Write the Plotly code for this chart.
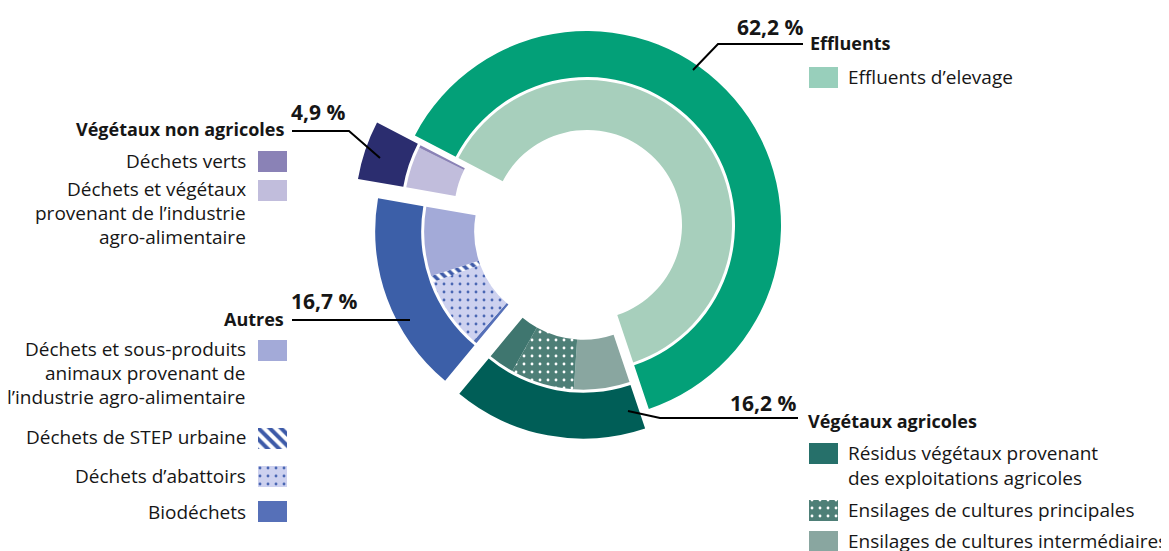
import math
import plotly.graph_objects as go

W, H = 1169, 551
OFF = 8  # the page body adds an 8px margin around the figure

# ---- data -------------------------------------------------------------
groups = ["Effluents", "Végétaux agricoles", "Autres", "Végétaux non agricoles"]
group_values = [62.2, 16.2, 16.7, 4.9]
group_labels = ["62,2 %", "16,2 %", "16,7 %", "4,9 %"]

sub_labels = [
    "Effluents d'elevage",
    "Ensilages de cultures intermédiaires",
    "Ensilages de cultures principales",
    "Résidus végétaux provenant des exploitations agricoles",
    "Biodéchets",
    "Déchets d'abattoirs",
    "Déchets de STEP urbaine",
    "Déchets et sous-produits animaux provenant de l'industrie agro-alimentaire",
    "Déchets et végétaux provenant de l'industrie agro-alimentaire",
    "Déchets verts",
]
sub_group = [0, 1, 1, 1, 2, 2, 2, 2, 3, 3]
sub_values = [62.2, 6.2, 7.1, 2.9, 0.4, 7.9, 0.7, 7.7, 4.6, 0.3]

# ---- style ------------------------------------------------------------
group_colors = ["#03a078", "#005e57", "#3c5fa8", "#2b2d6f"]
sub_colors = ["#a7cfbc", "#89a6a0", "#4e7f77", "#3f766f", "#5670b8",
              "#cdd1ef", "#ffffff", "#a3aad8", "#c1bddc", "#8a82b6"]
sub_shapes = ["", "", ".", "", "", ".", "\\", "", "", ""]
sub_fg = ["#a7cfbc", "#89a6a0", "#ffffff", "#3f766f", "#5670b8",
          "#4a67b3", "#3d5aa8", "#a3aad8", "#c1bddc", "#8a82b6"]
sub_psize = [8, 8, 8, 8, 8, 8, 7, 8, 8, 8]
sub_psolid = [0.3, 0.3, 0.1, 0.3, 0.3, 0.1, 0.5, 0.3, 0.3, 0.3]
CLEAR = "rgba(0,0,0,0)"

cx, cy = 587, 225          # centre of the donut (page px)
r_out, hole_out = 194, 148
r_in, hole_in = 145, 95
pull_px = [0, 20, 19, 40]  # how far each group is pulled out
start_angle = -62.5
FONT = "Open Sans"
TXT = "#161616"


def px(x):
    return (x - OFF) / W


def py(y):
    return 1 - (y - OFF) / H


def box(x0, y0, r):
    return dict(x=[px(x0 - r), px(x0 + r)], y=[py(y0 + r), py(y0 - r)])


fig = go.Figure()

# one pair of pies per group, so that each group can be pulled out on its own
total = sum(group_values)
before = 0
for g in range(len(groups)):
    mid = math.radians(start_angle + 360 * (before + group_values[g] / 2) / total)
    before += group_values[g]
    gx = cx + pull_px[g] * math.sin(mid)
    gy = cy - pull_px[g] * math.cos(mid)

    fig.add_trace(go.Pie(
        labels=groups, values=group_values, sort=False, direction="clockwise",
        rotation=start_angle, hole=hole_out / r_out,
        marker=dict(colors=[c if i == g else CLEAR for i, c in enumerate(group_colors)],
                    line=dict(width=0)),
        textinfo="none", hoverinfo="skip", domain=box(gx, gy, r_out), showlegend=False,
    ))

    keep = [sg == g for sg in sub_group]
    fig.add_trace(go.Pie(
        labels=sub_labels, values=sub_values, sort=False, direction="clockwise",
        rotation=start_angle, hole=hole_in / r_in,
        marker=dict(colors=[c if k else CLEAR for c, k in zip(sub_colors, keep)],
                    line=dict(width=0),
                    pattern=dict(shape=[s if k else "" for s, k in zip(sub_shapes, keep)],
                                 fgcolor=[c if k else CLEAR for c, k in zip(sub_fg, keep)],
                                 bgcolor=[c if k else CLEAR for c, k in zip(sub_colors, keep)],
                                 size=sub_psize, solidity=sub_psolid, fgopacity=1)),
        textinfo="none", hoverinfo="skip", domain=box(gx, gy, r_in), showlegend=False,
    ))

# ---- legend swatches (helper axis in page pixel units) -----------------
sw_x = [272, 272, 272, 272, 272, 272, 823, 823, 823, 823]
sw_y = [151, 180, 340, 428, 466, 501, 67, 443, 500, 531]
sw_fill = ["#8a82b6", "#c1bddc", "#a3aad8", "#ffffff", "#cdd1ef", "#5670b8",
           "#98cfbb", "#26706a", "#4e7f77", "#89a6a0"]
sw_shape = ["", "", "", "\\", ".", "", "", "", ".", ""]
sw_fg = ["#8a82b6", "#c1bddc", "#a3aad8", "#3d5aa8", "#4a67b3", "#5670b8",
         "#98cfbb", "#26706a", "#ffffff", "#89a6a0"]
sw_psolid = [0.3, 0.3, 0.3, 0.5, 0.1, 0.3, 0.3, 0.3, 0.1, 0.3]
for i in range(len(sw_x)):
    fig.add_trace(go.Bar(
        x=[sw_x[i]], base=[sw_y[i]], y=[21], width=[29],
        marker=dict(color=sw_fill[i], line=dict(width=0),
                    pattern=dict(shape=sw_shape[i], fgcolor=sw_fg[i], bgcolor=sw_fill[i],
                                 size=8, solidity=sw_psolid[i], fgopacity=1)),
        hoverinfo="skip", showlegend=False,
    ))

# ---- text ---------------------------------------------------------------
ann = []


def txt(x, y, s, anchor, bold=False, size=19):
    ann.append(dict(x=px(x), y=py(y), xref="paper", yref="paper", text=s,
                    showarrow=False, xanchor=anchor, yanchor="middle",
                    font=dict(family=FONT, size=size, color=TXT,
                              weight="bold" if bold else "normal")))


# left side
txt(286, 129, "Végétaux non agricoles", "right", True, 18)
txt(289, 112, group_labels[3], "left", True, 21)
txt(248, 161, "Déchets verts", "right")
txt(248, 189, "Déchets et végétaux", "right")
txt(248, 213, "provenant de l’industrie", "right")
txt(248, 237, "agro-alimentaire", "right")

txt(286, 319, "Autres", "right", True, 18)
txt(289, 301, group_labels[2], "left", True, 21)
txt(248, 349, "Déchets et sous-produits", "right")
txt(248, 373, "animaux provenant de", "right")
txt(248, 397, "l’industrie agro-alimentaire", "right")
txt(248, 437, "Déchets de STEP urbaine", "right")
txt(248, 476, "Déchets d’abattoirs", "right")
txt(248, 512, "Biodéchets", "right")

# right side
txt(805, 27, group_labels[0], "right", True, 21)
txt(808, 43, "Effluents", "left", True, 18)
txt(846, 77, "Effluents d’elevage", "left")

txt(798, 403, group_labels[1], "right", True, 21)
txt(806, 421, "Végétaux agricoles", "left", True, 18)
txt(846, 453, "Résidus végétaux provenant", "left")
txt(846, 478, "des exploitations agricoles", "left")
txt(846, 510, "Ensilages de cultures principales", "left")
txt(846, 541, "Ensilages de cultures intermédiaires", "left")

# leader lines
lines = [
    [(292, 131), (349, 131), (380, 158)],
    [(292, 320), (410, 320)],
    [(693, 70), (718, 44), (803, 44)],
    [(628, 411), (660, 418), (798, 418)],
]
shapes = []
for pts in lines:
    path = "M " + " L ".join(f"{px(x)},{py(y)}" for x, y in pts)
    shapes.append(dict(type="path", path=path, xref="paper", yref="paper",
                       line=dict(color="#000000", width=2)))

fig.update_layout(
    width=W, height=H, margin=dict(l=0, r=0, t=0, b=0),
    paper_bgcolor="white", plot_bgcolor="white",
    xaxis=dict(range=[OFF, W + OFF], visible=False, fixedrange=True, domain=[0, 1]),
    yaxis=dict(range=[H + OFF, OFF], visible=False, fixedrange=True, domain=[0, 1]),
    annotations=ann, shapes=shapes, showlegend=False, bargap=0, barmode="overlay",
)

fig.write_html("out.html")
